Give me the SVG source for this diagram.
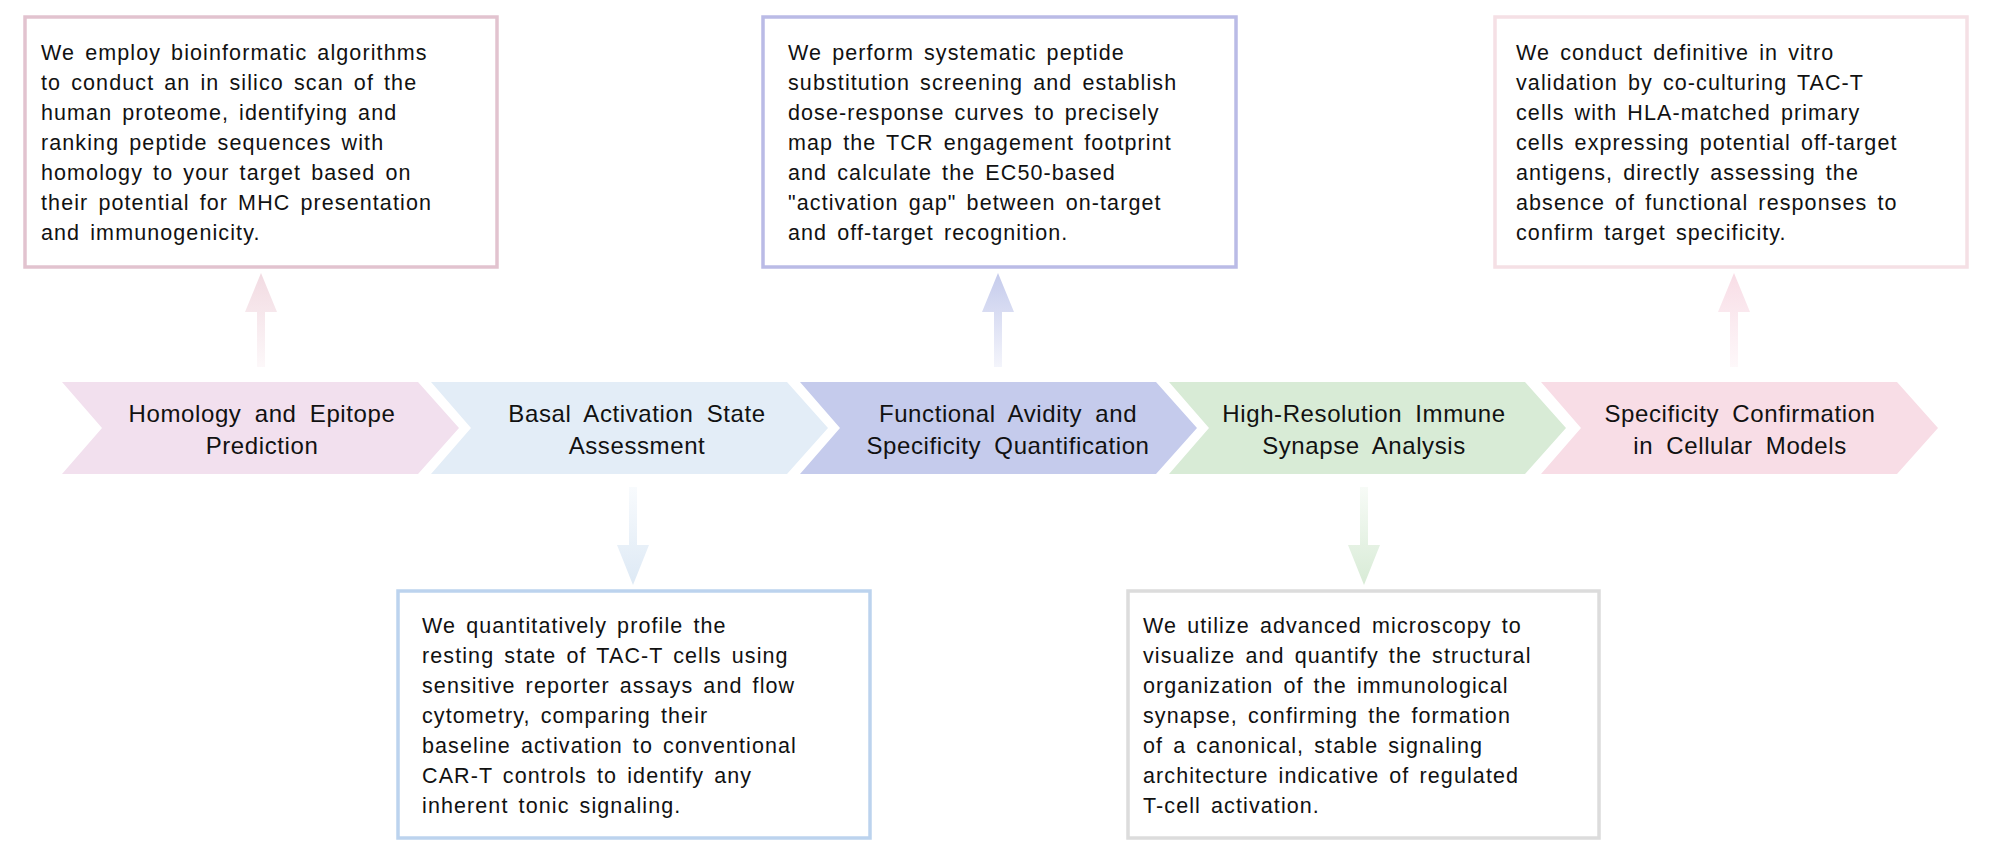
<svg xmlns="http://www.w3.org/2000/svg" width="1998" height="866" viewBox="0 0 1998 866">
<style>
.box{fill:#fff;stroke-width:3.5}
.bt{font-family:"Liberation Sans",Arial,sans-serif;font-size:21.5px;letter-spacing:1.1px;word-spacing:3px;fill:#111}
.ct{font-family:"Liberation Sans",Arial,sans-serif;font-size:24px;letter-spacing:0.6px;word-spacing:6px;fill:#111;text-anchor:middle}
</style>
<defs>
<linearGradient id="gu1" x1="0" y1="1" x2="0" y2="0"><stop offset="0" stop-color="#f2dbe2" stop-opacity="0.2"/><stop offset="1" stop-color="#f2dbe2"/></linearGradient>
<linearGradient id="gu3" x1="0" y1="1" x2="0" y2="0"><stop offset="0" stop-color="#c5cbec" stop-opacity="0.2"/><stop offset="1" stop-color="#c5cbec"/></linearGradient>
<linearGradient id="gu5" x1="0" y1="1" x2="0" y2="0"><stop offset="0" stop-color="#f8dde6" stop-opacity="0.2"/><stop offset="1" stop-color="#f8dde6"/></linearGradient>
<linearGradient id="gd2" x1="0" y1="0" x2="0" y2="1"><stop offset="0" stop-color="#dde9f5" stop-opacity="0.2"/><stop offset="1" stop-color="#dde9f5"/></linearGradient>
<linearGradient id="gd4" x1="0" y1="0" x2="0" y2="1"><stop offset="0" stop-color="#d8ebd6" stop-opacity="0.2"/><stop offset="1" stop-color="#d8ebd6"/></linearGradient>
</defs>
<rect width="1998" height="866" fill="#fff"/>
<g id="connectors">
<path d="M257 367 V312 H245 L261 273 L277 312 H265 V367 Z" fill="url(#gu1)"/>
<path d="M994 367 V312 H982 L998 273 L1014 312 H1002 V367 Z" fill="url(#gu3)"/>
<path d="M1730 367 V312 H1718 L1734 273 L1750 312 H1738 V367 Z" fill="url(#gu5)"/>
<path d="M629 487 V545 H617 L633 585 L649 545 H637 V487 Z" fill="url(#gd2)"/>
<path d="M1360 487 V545 H1348 L1364 585 L1380 545 H1368 V487 Z" fill="url(#gd4)"/>
</g>
<g id="step1"><polygon points="62,382 418,382 459,428 418,474 62,474 102,428" fill="#f2e0ee"/><text class="ct" x="262" y="422">Homology and Epitope</text><text class="ct" x="262" y="454">Prediction</text></g>
<g id="step2"><polygon points="431,382 787,382 828,428 787,474 431,474 471,428" fill="#e3edf7"/><text class="ct" x="637" y="422">Basal Activation State</text><text class="ct" x="637" y="454">Assessment</text></g>
<g id="step3"><polygon points="800,382 1156,382 1197,428 1156,474 800,474 840,428" fill="#c5cbec"/><text class="ct" x="1008" y="422">Functional Avidity and</text><text class="ct" x="1008" y="454">Specificity Quantification</text></g>
<g id="step4"><polygon points="1169,382 1525,382 1566,428 1525,474 1169,474 1209,428" fill="#d8ebd6"/><text class="ct" x="1364" y="422">High-Resolution Immune</text><text class="ct" x="1364" y="454">Synapse Analysis</text></g>
<g id="step5"><polygon points="1541,382 1897,382 1938,428 1897,474 1541,474 1581,428" fill="#f8dde6"/><text class="ct" x="1740" y="422">Specificity Confirmation</text><text class="ct" x="1740" y="454">in Cellular Models</text></g>
<g id="box1"><rect class="box" x="25" y="17" width="472" height="250" stroke="#e2c3cf"/>
<text class="bt" x="41" y="60"><tspan x="41">We employ bioinformatic algorithms</tspan><tspan x="41" dy="30">to conduct an in silico scan of the</tspan><tspan x="41" dy="30">human proteome, identifying and</tspan><tspan x="41" dy="30">ranking peptide sequences with</tspan><tspan x="41" dy="30">homology to your target based on</tspan><tspan x="41" dy="30">their potential for MHC presentation</tspan><tspan x="41" dy="30">and immunogenicity.</tspan></text></g>
<g id="box3"><rect class="box" x="763" y="17" width="473" height="250" stroke="#babbe6"/>
<text class="bt" x="788" y="60"><tspan x="788">We perform systematic peptide</tspan><tspan x="788" dy="30">substitution screening and establish</tspan><tspan x="788" dy="30">dose-response curves to precisely</tspan><tspan x="788" dy="30">map the TCR engagement footprint</tspan><tspan x="788" dy="30">and calculate the EC50-based</tspan><tspan x="788" dy="30">"activation gap" between on-target</tspan><tspan x="788" dy="30">and off-target recognition.</tspan></text></g>
<g id="box5"><rect class="box" x="1495" y="17" width="472" height="250" stroke="#f5e0e5"/>
<text class="bt" x="1516" y="60"><tspan x="1516">We conduct definitive in vitro</tspan><tspan x="1516" dy="30">validation by co-culturing TAC-T</tspan><tspan x="1516" dy="30">cells with HLA-matched primary</tspan><tspan x="1516" dy="30">cells expressing potential off-target</tspan><tspan x="1516" dy="30">antigens, directly assessing the</tspan><tspan x="1516" dy="30">absence of functional responses to</tspan><tspan x="1516" dy="30">confirm target specificity.</tspan></text></g>
<g id="box2"><rect class="box" x="398" y="591" width="472" height="247" stroke="#bcd3ee"/>
<text class="bt" x="422" y="633"><tspan x="422">We quantitatively profile the</tspan><tspan x="422" dy="30">resting state of TAC-T cells using</tspan><tspan x="422" dy="30">sensitive reporter assays and flow</tspan><tspan x="422" dy="30">cytometry, comparing their</tspan><tspan x="422" dy="30">baseline activation to conventional</tspan><tspan x="422" dy="30">CAR-T controls to identify any</tspan><tspan x="422" dy="30">inherent tonic signaling.</tspan></text></g>
<g id="box4"><rect class="box" x="1128" y="591" width="471" height="247" stroke="#dcdcdc"/>
<text class="bt" x="1143" y="633"><tspan x="1143">We utilize advanced microscopy to</tspan><tspan x="1143" dy="30">visualize and quantify the structural</tspan><tspan x="1143" dy="30">organization of the immunological</tspan><tspan x="1143" dy="30">synapse, confirming the formation</tspan><tspan x="1143" dy="30">of a canonical, stable signaling</tspan><tspan x="1143" dy="30">architecture indicative of regulated</tspan><tspan x="1143" dy="30">T-cell activation.</tspan></text></g>
</svg>
